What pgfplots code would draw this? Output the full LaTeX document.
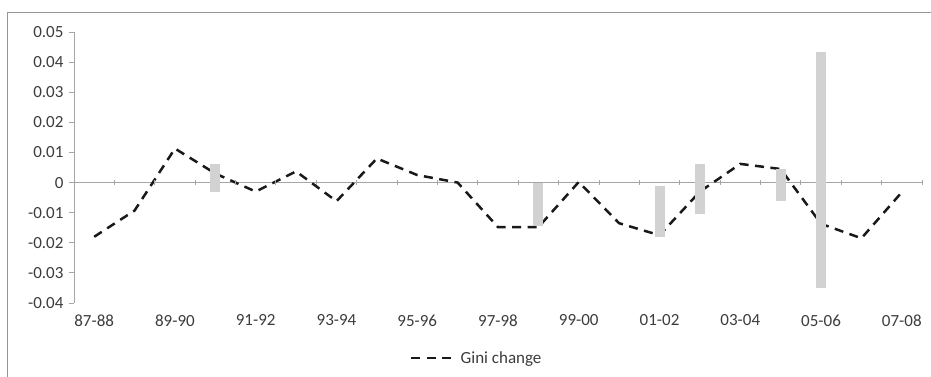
\documentclass[border=0pt]{standalone}
\usepackage{pgfplots}
\pgfplotsset{compat=1.18}
\usepackage{fontspec}
\setmainfont{Carlito}
\definecolor{axgray}{RGB}{165,165,165}
\definecolor{bargray}{RGB}{210,210,210}
\definecolor{txt}{RGB}{60,60,60}
\definecolor{border}{RGB}{150,150,150}
\begin{document}
\begin{tikzpicture}
\useasboundingbox (-74pt,-73pt) rectangle (857pt,303pt);
\draw[color=border, line width=1pt] (-66pt,-100pt) rectangle (900pt,291pt);
\begin{axis}[
  at={(0pt,0pt)}, anchor=south west,
  scale only axis, width=848pt, height=271pt,
  xmin=-0.5, xmax=20.5, ymin=-0.04, ymax=0.05,
  scaled y ticks=false,
  axis x line*=bottom, axis y line*=left,
  x axis line style={draw=none},
  y axis line style={draw=axgray, line width=0.9pt},
  xtick={0,2,4,6,8,10,12,14,16,18,20},
  xticklabels={87-88,89-90,91-92,93-94,95-96,97-98,99-00,01-02,03-04,05-06,07-08},
  major x tick style={draw=none},
  ytick={-0.04,-0.03,-0.02,-0.01,0,0.01,0.02,0.03,0.04,0.05},
  yticklabels={-0.04,-0.03,-0.02,-0.01,0,0.01,0.02,0.03,0.04,0.05},
  tick align=outside, major tick length=5pt,
  major y tick style={draw=axgray, line width=0.9pt},
  ticklabel style={font=\fontsize{17}{20}\selectfont, color=txt},
  xticklabel style={yshift=-3pt},
  yticklabel style={xshift=-2pt},
  legend style={at={(0.475,-0.203)}, anchor=center, draw=none, fill=none,
    font=\fontsize{17}{20}\selectfont, text=txt, inner sep=0pt,
    /tikz/every even column/.append style={column sep=0pt}},
  legend image code/.code={\draw[#1] (0pt,0pt) -- (46pt,0pt);},
  clip=false,
]
% zero line with tick marks
\addplot[axgray, line width=0.9pt, forget plot] coordinates {(-0.5,0) (20.5,0)};
\addplot[only marks, mark=|, mark size=2.5pt, color=axgray, mark options={line width=0.9pt}, forget plot] coordinates {
(-0.5,0) (0.5,0) (1.5,0) (2.5,0) (3.5,0) (4.5,0) (5.5,0) (6.5,0) (7.5,0) (8.5,0) (9.5,0)
(10.5,0) (11.5,0) (12.5,0) (13.5,0) (14.5,0) (15.5,0) (16.5,0) (17.5,0) (18.5,0) (19.5,0) (20.5,0)};
% Gini change
\addplot[black!90, line width=2.5pt, dash pattern=on 9pt off 6.5pt] coordinates {
(0,-0.018) (1,-0.0093) (2,0.0113) (3,0.003) (4,-0.003) (5,0.0037) (6,-0.0062)
(7,0.008) (8,0.0025) (9,0.0) (10,-0.0148) (11,-0.0148) (12,0.0002) (13,-0.0135)
(14,-0.0175) (15,-0.003) (16,0.0062) (17,0.0045) (18,-0.0137) (19,-0.0185) (20,-0.0032)};
\addlegendentry{Gini change}
% grey range bars
\addplot[bargray, line width=10pt, forget plot] coordinates {(3,-0.003) (3,0.006)};
\addplot[bargray, line width=10pt, forget plot] coordinates {(11,-0.0145) (11,0.0)};
\addplot[bargray, line width=10pt, forget plot] coordinates {(14,-0.018) (14,-0.001)};
\addplot[bargray, line width=10pt, forget plot] coordinates {(15,-0.0105) (15,0.006)};
\addplot[bargray, line width=10pt, forget plot] coordinates {(17,-0.006) (17,0.0045)};
\addplot[bargray, line width=10pt, forget plot] coordinates {(18,-0.035) (18,0.0432)};
\end{axis}
\end{tikzpicture}
\end{document}
